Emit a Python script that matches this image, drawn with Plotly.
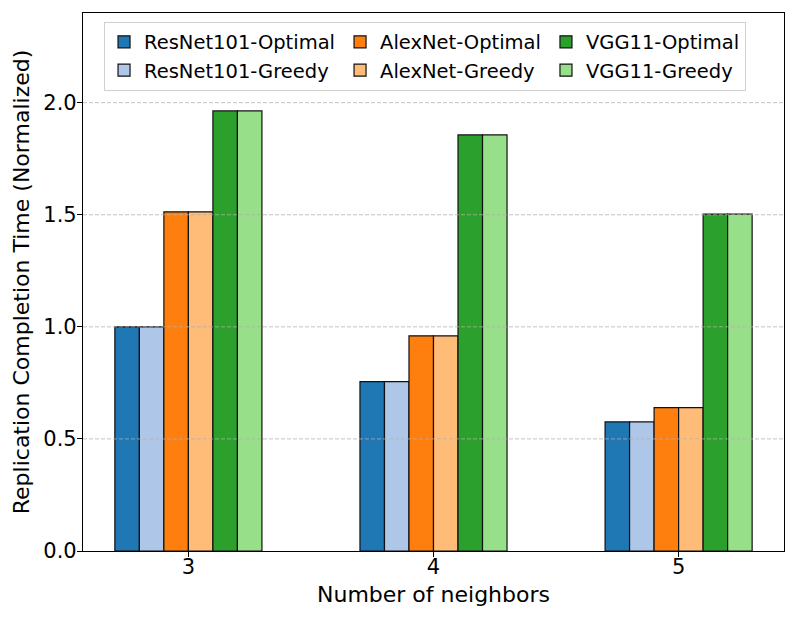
import plotly.graph_objects as go

neighbors = [3, 4, 5]
series_names = ["ResNet101-Optimal", "ResNet101-Greedy", "AlexNet-Optimal",
                "AlexNet-Greedy", "VGG11-Optimal", "VGG11-Greedy"]
resnet_optimal = [1.00, 0.756, 0.576]
resnet_greedy = [1.00, 0.756, 0.576]
alexnet_optimal = [1.513, 0.960, 0.640]
alexnet_greedy = [1.513, 0.960, 0.640]
vgg_optimal = [1.963, 1.856, 1.503]
vgg_greedy = [1.963, 1.856, 1.503]
y_ticks = [0.0, 0.5, 1.0, 1.5, 2.0]
grid_values = [0.5, 1.0, 1.5, 2.0]

series_values = [resnet_optimal, resnet_greedy, alexnet_optimal,
                 alexnet_greedy, vgg_optimal, vgg_greedy]
colors = ["#1f77b4", "#aec7e8", "#ff7f0e", "#ffbb78", "#2ca02c", "#98df8a"]
groups = ["resnet", "resnet", "alexnet", "alexnet", "vgg", "vgg"]

FONT = "DejaVu Sans"

fig = go.Figure()
for name, vals, col, grp in zip(series_names, series_values, colors, groups):
    fig.add_trace(go.Bar(
        x=neighbors, y=vals, name=name, legendgroup=grp,
        marker=dict(color=col, line=dict(color="#111111", width=1.2)),
    ))

shapes = []
for g in grid_values:
    shapes.append(dict(type="line", xref="paper", yref="y", x0=0, x1=1, y0=g, y1=g,
                       line=dict(color="rgba(176,176,176,0.75)", width=1, dash="4px,2px"),
                       layer="above"))

fig.update_layout(
    width=789, height=612,
    margin=dict(l=75, r=13, t=5, b=69, pad=0),
    paper_bgcolor="white", plot_bgcolor="white",
    barmode="group", bargap=0.4, bargroupgap=0,
    font=dict(family=FONT, size=21, color="black"),
    shapes=shapes,
    showlegend=True,
    legend=dict(
        orientation="h", traceorder="grouped", tracegroupgap=20,
        x=0.030, y=0.984, xanchor="left", yanchor="top",
        bgcolor="rgba(255,255,255,0.8)", bordercolor="#d0d0d0", borderwidth=1,
        font=dict(family=FONT, size=19.5, color="black"),
    ),
    xaxis=dict(
        range=[2.57, 5.43], tickmode="array", tickvals=neighbors,
        ticktext=[str(n) for n in neighbors],
        showline=True, linecolor="black", linewidth=1.2, mirror=True,
        ticks="outside", ticklen=5, tickwidth=1.2, tickcolor="black",
        ticklabelstandoff=-8,
        showgrid=False, zeroline=False,
        tickfont=dict(family=FONT, size=21),
        title=dict(text="Number of neighbors", font=dict(family=FONT, size=22), standoff=8),
    ),
    yaxis=dict(
        range=[0, 2.4], tickmode="array", tickvals=y_ticks,
        ticktext=[f"{v:.1f}" for v in y_ticks],
        showline=True, linecolor="black", linewidth=1.2, mirror=True,
        ticks="outside", ticklen=5, tickwidth=1.2, tickcolor="black",
        ticklabelstandoff=-4,
        showgrid=False, zeroline=False,
        tickfont=dict(family=FONT, size=21),
        title=dict(text="Replication Completion Time (Normalized)",
                   font=dict(family=FONT, size=22), standoff=7),
    ),
)

fig.write_html("out.html")
